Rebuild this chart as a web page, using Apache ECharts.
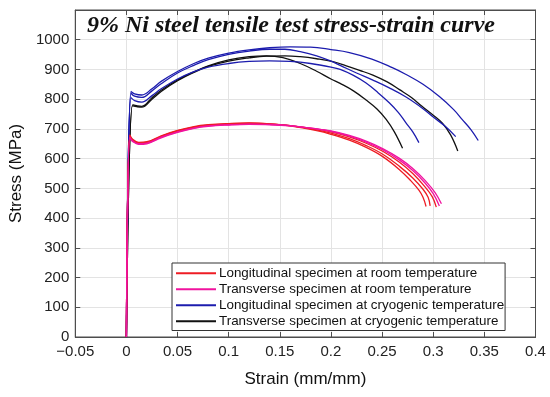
<!DOCTYPE html>
<html>
<head>
<meta charset="utf-8">
<script src="https://cdn.jsdelivr.net/npm/echarts@6/dist/echarts.min.js"></script>
<style>html,body{margin:0;padding:0;background:#fff}#c{width:550px;height:397px}</style>
</head>
<body>
<div id="c"></div>
<script>
// Tick values
const xTicks = [-0.05, 0, 0.05, 0.1, 0.15, 0.2, 0.25, 0.3, 0.35, 0.4];
const yTicks = [0, 100, 200, 300, 400, 500, 600, 700, 800, 900, 1000];
const legendNames = [
  'Longitudinal specimen at room temperature',
  'Transverse specimen at room temperature',
  'Longitudinal specimen at cryogenic temperature',
  'Transverse specimen at cryogenic temperature'
];

// Longitudinal, room temperature (red)
const lr1 = [[0,0],[0.0033,680],[0.006,665],[0.012,655],[0.02,657],[0.034,677],[0.05,695],[0.066,708],[0.08,714],[0.1,718],[0.12,720],[0.14,717],[0.16,710],[0.186,694],[0.2,682],[0.218,662],[0.235,637],[0.251,606],[0.267,563],[0.278,526],[0.286,494],[0.29,470],[0.293,439]];
const lr2 = [[0,0],[0.0033,678],[0.006,663],[0.012,653],[0.02,655],[0.034,675],[0.05,693],[0.066,706],[0.08,713],[0.1,717],[0.12,719],[0.14,717],[0.16,711],[0.186,697],[0.2,686],[0.218,667],[0.235,643],[0.251,614],[0.267,574],[0.28,535],[0.29,497],[0.295,470],[0.297,441]];
const lr3 = [[0,0],[0.0033,675],[0.006,662],[0.012,652],[0.02,654],[0.034,674],[0.05,692],[0.066,705],[0.08,712],[0.1,716],[0.12,718],[0.14,716],[0.16,711],[0.186,699],[0.2,690],[0.218,673],[0.235,651],[0.251,624],[0.267,588],[0.28,550],[0.292,505],[0.299,472],[0.303,437]];
// Transverse, room temperature (magenta)
const tr1 = [[0,0],[0.0033,672],[0.006,660],[0.012,650],[0.02,652],[0.034,672],[0.05,690],[0.066,703],[0.08,710],[0.1,714],[0.12,716],[0.14,715],[0.16,711],[0.186,700],[0.2,692],[0.218,676],[0.235,655],[0.251,629],[0.267,595],[0.28,560],[0.292,518],[0.3,482],[0.306,441]];
const tr2 = [[0,0],[0.0033,670],[0.006,658],[0.012,648],[0.02,650],[0.034,670],[0.05,688],[0.066,702],[0.08,709],[0.1,713],[0.12,715],[0.14,714],[0.16,710],[0.186,700],[0.2,693],[0.218,678],[0.235,658],[0.251,633],[0.267,601],[0.28,567],[0.292,527],[0.302,485],[0.308,448]];
// Longitudinal, cryogenic (blue)
const lc1 = [[0,0],[0.0045,805],[0.008,795],[0.015,790],[0.025,812],[0.034,835],[0.05,868],[0.066,893],[0.08,908],[0.1,920],[0.12,927],[0.14,929],[0.16,927],[0.18,920],[0.2,908],[0.209,900],[0.222,880],[0.234,855],[0.246,822],[0.257,788],[0.266,755],[0.273,722],[0.28,690],[0.286,654]];
const lc2 = [[0,0],[0.0045,820],[0.008,810],[0.015,806],[0.025,828],[0.034,852],[0.05,888],[0.066,914],[0.08,933],[0.1,951],[0.12,962],[0.14,968],[0.155,968],[0.17,960],[0.186,946],[0.2,928],[0.21,912],[0.225,888],[0.241,864],[0.257,838],[0.273,808],[0.29,768],[0.3,740],[0.312,708],[0.322,674]];
const lc3 = [[0,0],[0.0045,826],[0.008,818],[0.015,814],[0.025,835],[0.034,860],[0.05,893],[0.066,920],[0.08,938],[0.1,955],[0.12,966],[0.14,973],[0.16,976],[0.18,975],[0.2,967],[0.218,957],[0.24,935],[0.26,906],[0.273,884],[0.29,850],[0.306,809],[0.32,765],[0.328,733],[0.337,697],[0.344,661]];
// Transverse, cryogenic (black)
const tc1 = [[0,0],[0.006,781],[0.01,778],[0.015,776],[0.025,805],[0.034,830],[0.05,865],[0.066,892],[0.08,912],[0.1,932],[0.12,943],[0.137,946],[0.153,940],[0.17,920],[0.186,894],[0.2,868],[0.209,853],[0.222,828],[0.234,798],[0.245,767],[0.254,732],[0.262,690],[0.27,635]];
const tc2 = [[0,0],[0.006,778],[0.01,775],[0.015,773],[0.025,800],[0.034,826],[0.05,862],[0.066,890],[0.08,910],[0.1,928],[0.12,939],[0.137,945],[0.155,946],[0.17,943],[0.186,936],[0.202,926],[0.215,912],[0.228,897],[0.241,881],[0.255,858],[0.267,832],[0.279,805],[0.289,776],[0.3,746],[0.309,719],[0.317,680],[0.324,626]];

const colors = ['#ee1c24', '#f0139e', '#1c1cae', '#111111'];
const groups = [
  [legendNames[3], colors[3], [tc1, tc2]],
  [legendNames[2], colors[2], [lc1, lc2, lc3]],
  [legendNames[0], colors[0], [lr1, lr2, lr3]],
  [legendNames[1], colors[1], [tr1, tr2]]
];
const series = [];
groups.forEach(g => {
  g[2].forEach(d => {
    series.push({
      type: 'line', name: g[0], data: d, showSymbol: false, symbol: 'none',
      smooth: 0.4,
      lineStyle: { color: g[1], width: 1.3 }, itemStyle: { color: g[1] },
      xAxisIndex: 0, yAxisIndex: 0, z: 3, animation: false
    });
  });
});

const fmtX = v => { const s = String(+(+v).toFixed(2)); return s.replace('-', '\u2212'); };
const axisColor = '#4d4d4d';
const chart = echarts.init(document.getElementById('c'), null, { renderer: 'canvas' });
chart.setOption({
  animation: false,
  backgroundColor: '#fff',
  title: {
    text: '9% Ni steel tensile test stress-strain curve',
    left: 82, top: 9,
    textStyle: { fontFamily: 'Liberation Serif', fontStyle: 'italic', fontWeight: 'bold', fontSize: 24, color: '#111' }
  },
  legend: {
    data: legendNames,
    orient: 'vertical', left: 172, top: 263,
    padding: [3, 1, 2, 4],
    itemGap: 1.5,
    itemWidth: 40, itemHeight: 2,
    icon: 'rect',
    backgroundColor: '#fff', borderColor: '#333', borderWidth: 1,
    textStyle: { fontFamily: 'Liberation Sans', fontSize: 13.4, color: '#111', lineHeight: 14.5, padding: [0, 0, 0, -2] }
  },
  grid: { left: 73.5, right: 14.5, top: 10, bottom: 60, show: true, borderColor: axisColor, borderWidth: 1, containLabel: false },
  xAxis: [{
    type: 'value', min: -0.05, max: 0.4, interval: 0.05,
    name: 'Strain (mm/mm)', nameLocation: 'middle', nameGap: 34,
    nameTextStyle: { fontFamily: 'Liberation Sans', fontSize: 17, color: '#111' },
    axisLine: { show: true, onZero: false, lineStyle: { color: axisColor } },
    axisTick: { show: true, inside: true, length: 5, lineStyle: { color: axisColor } },
    axisLabel: { formatter: fmtX, fontFamily: 'Liberation Sans', fontSize: 15, color: '#222', margin: 7 },
    splitLine: { show: true, lineStyle: { color: '#e3e3e3', width: 1 } }
  }, {
    type: 'value', min: -0.05, max: 0.4, interval: 0.05, position: 'top',
    axisLine: { show: true, onZero: false, lineStyle: { color: axisColor } },
    axisTick: { show: true, inside: true, length: 5, lineStyle: { color: axisColor } },
    axisLabel: { show: false }, splitLine: { show: false }
  }],
  yAxis: [{
    type: 'value', min: 0, max: 1100, interval: 100,
    name: 'Stress (MPa)', nameLocation: 'middle', nameGap: 43,
    nameTextStyle: { fontFamily: 'Liberation Sans', fontSize: 17, color: '#111' },
    axisLine: { show: true, onZero: false, lineStyle: { color: axisColor } },
    axisTick: { show: true, inside: true, length: 5, lineStyle: { color: axisColor } },
    axisLabel: { formatter: v => (v > 1000 ? '' : String(v)), fontFamily: 'Liberation Sans', fontSize: 15, color: '#222', margin: 6 },
    splitLine: { show: true, lineStyle: { color: '#e3e3e3', width: 1 } }
  }, {
    type: 'value', min: 0, max: 1100, interval: 100, position: 'right',
    axisLine: { show: true, onZero: false, lineStyle: { color: axisColor } },
    axisTick: { show: true, inside: true, length: 5, lineStyle: { color: axisColor } },
    axisLabel: { show: false }, splitLine: { show: false }
  }],
  series: series
});
</script>
</body>
</html>
